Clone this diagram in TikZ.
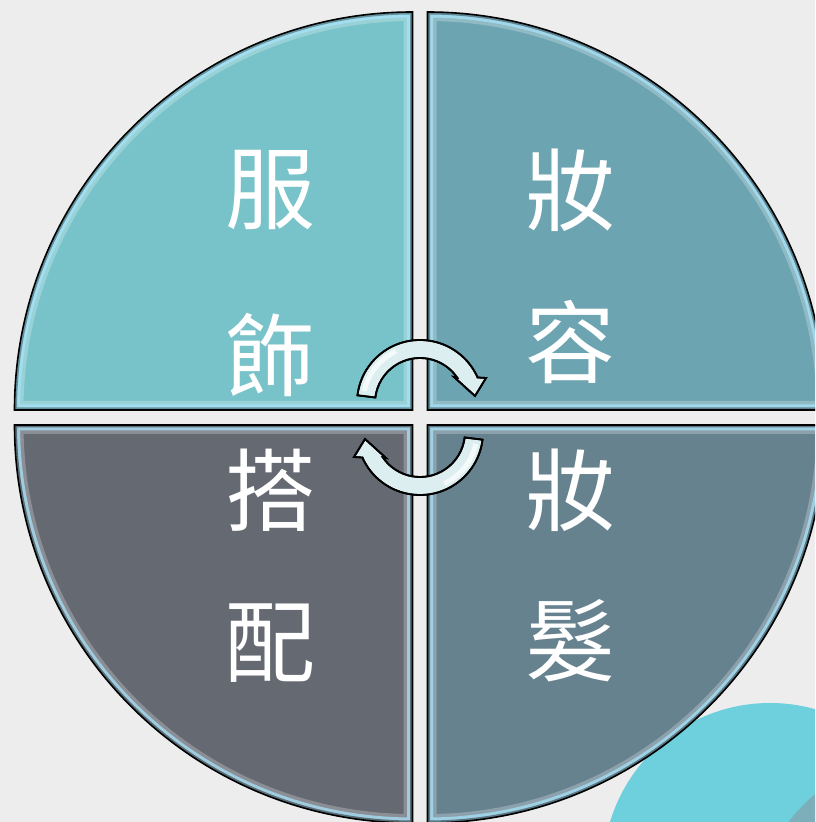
\documentclass[tikz,border=0pt]{standalone}
\usepackage{fontspec}
\newfontfamily\cjk{Noto Sans CJK TC}
\definecolor{bgc}{HTML}{EDEDED}
\definecolor{tlc}{HTML}{78C3C9}
\definecolor{trc}{HTML}{6CA4B1}
\definecolor{blc}{HTML}{656A72}
\definecolor{brc}{HTML}{66828F}
\definecolor{cyc}{HTML}{6ED0DC}
\definecolor{cyd}{HTML}{7DAFBA}
\definecolor{arc}{HTML}{DCEEEF}
\newcommand\pathTL{(412.5,412) -- (14.5,412) arc[start angle=180,end angle=90,radius=398] -- cycle}
\newcommand\pathTR{(427.5,412) -- (427.5,810) arc[start angle=90,end angle=0,radius=398] -- cycle}
\newcommand\pathBL{(412.5,397) -- (14.5,397) arc[start angle=180,end angle=270,radius=398] -- cycle}
\newcommand\pathBR{(427.5,397) -- (825.5,397) arc[start angle=0,end angle=-90,radius=398] -- cycle}
\newcommand\arrowpath{(173:63) arc[start angle=173,end angle=23.9,radius=63] -- (66,25) -- (55,7) -- (34,26) -- (34.5:45) arc[start angle=34.5,end angle=173,radius=45] -- cycle}
\newcommand\bevelsec[2]{%
  \fill[#2] #1;
  \begin{scope}
    \clip #1;
    \draw[white, opacity=.25, line width=18] #1;
    \draw[white!65!cyan, opacity=.75, line width=11] #1;
    \draw[#2!55!black, opacity=.65, line width=5] #1;
  \end{scope}
  \draw[outl] #1;}
\begin{document}
\begin{tikzpicture}[x=1pt,y=1pt,
  outl/.style={draw=black, line width=1.6},
  lab/.style={font=\cjk\fontsize{90}{90}\selectfont, text=white, inner sep=0, anchor=base},
  arrowshape/.style={fill=arc, draw=black, line width=1.8, line join=miter}]
\useasboundingbox (0,0) rectangle (815,822);
\clip (0,0) rectangle (815,822);
\fill[bgc] (0,0) rectangle (815,822);
% decorative circles bottom right
\fill[cyc] (770,-48) circle[radius=167];
\fill[cyd] (930,-108) circle[radius=178];
% quadrants
\bevelsec{\pathTL}{tlc}
\bevelsec{\pathTR}{trc}
\bevelsec{\pathBL}{blc}
\bevelsec{\pathBR}{brc}
% labels
\node[lab] (t1) at (270,599) {服};
\node[lab] (t2) at (270,432) {飾};
\node[lab] (t3) at (270,297) {搭};
\node[lab] (t4) at (270,146) {配};
\node[lab] (t5) at (570,597) {妝};
\node[lab] (t6) at (570,445) {容};
\node[lab] (t7) at (570,297) {妝};
\node[lab] (t8) at (570,147) {髮};
% cycle arrows
\begin{scope}[shift={(420,419)}]
  \path[arrowshape] \arrowpath;
  \begin{scope}
    \clip \arrowpath;
    \draw[white, opacity=.7, line width=5] (168:57) arc[start angle=168,end angle=115,radius=57];
  \end{scope}
  \path[draw=black, line width=1.8, line join=miter] \arrowpath;
\end{scope}
\begin{scope}[shift={(420,390)}, rotate=180]
  \path[arrowshape] \arrowpath;
  \begin{scope}
    \clip \arrowpath;
    \draw[white, opacity=.7, line width=5] (168:57) arc[start angle=168,end angle=115,radius=57];
  \end{scope}
  \path[draw=black, line width=1.8, line join=miter] \arrowpath;
\end{scope}
\end{tikzpicture}
\end{document}
